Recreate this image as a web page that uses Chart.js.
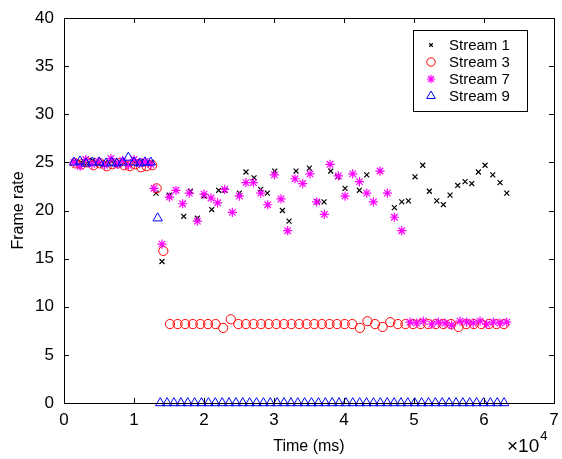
<!DOCTYPE html>
<html lang="en">
<head>
  <meta charset="UTF-8">
  <title>Frame rate</title>
  <script src="https://cdn.jsdelivr.net/npm/chart.js"></script>
  <style>
    body { margin: 0; background: #fff; }
    #wrap { position: relative; width: 562px; height: 459px; }
  </style>
</head>
<body>
  <div id="wrap"><canvas id="chart"></canvas></div>
  <script>
    // x axis ticks (ms) and y ticks
    const xTicks = [0, 10000, 20000, 30000, 40000, 50000, 60000, 70000];
    const yTicks = [0, 5, 10, 15, 20, 25, 30, 35, 40];

    // Stream 1 (black x)
    const s1Time = [1500, 2400, 3200, 4100, 5000, 5900, 6800, 7700, 8500, 9300, 10100, 10900, 11700, 12500,
      13150, 14000, 15050, 17100, 18050, 19050, 20000, 21100, 22100, 23000, 25050, 26000, 27150, 28100, 29050,
      30100, 31200, 32150, 33150, 35050, 36200, 37150, 38100, 39100, 40150, 42200, 43250, 47200, 48250, 49200,
      50150, 51250, 52200, 53250, 54200, 55150, 56250, 57300, 58250, 59200, 60150, 61250, 62300, 63250];
    const s1Rate = [25.1, 25.0, 24.9, 25.2, 24.8, 25.0, 25.1, 24.9, 25.0, 24.8, 25.0, 25.1, 24.9, 25.0,
      21.8, 14.7, 21.6, 19.4, 22.0, 19.2, 21.5, 20.1, 22.1, 22.1, 21.8, 24.0, 23.4, 22.2, 21.8,
      24.1, 20.0, 18.9, 24.1, 24.4, 20.9, 20.9, 24.1, 23.5, 22.3, 22.1, 23.7, 20.3, 20.9, 21.0,
      23.5, 24.7, 22.0, 21.0, 20.6, 21.6, 22.6, 23.0, 22.8, 24.0, 24.7, 23.7, 22.9, 21.8];

    // Stream 3 (red circles)
    const s3Time = [1600, 2500, 3300, 4200, 5100, 6100, 6900, 7800, 8600, 9400, 10200, 11000, 11800, 12600,
      13240, 14190, 15140, 16230, 17310, 18400, 19480, 20570, 21650, 22740, 23820, 24910, 25990, 27080, 28160,
      29250, 30330, 31420, 32500, 33590, 34670, 35760, 36840, 37930, 39010, 40100, 41180, 42270, 43350, 44440,
      45520, 46610, 47690, 48780, 49860, 50950, 52030, 53120, 54200, 55290, 56370, 57460, 58540, 59630, 60700,
      61780, 62860];
    const s3Rate = [24.9, 24.8, 25.0, 24.7, 24.9, 24.6, 24.8, 24.9, 24.7, 24.6, 24.8, 24.5, 24.6, 24.7,
      22.3, 15.8, 8.2, 8.2, 8.2, 8.2, 8.2, 8.2, 8.2, 7.8, 8.7, 8.2, 8.2, 8.2, 8.2,
      8.2, 8.2, 8.2, 8.2, 8.2, 8.2, 8.2, 8.2, 8.2, 8.2, 8.2, 8.2, 7.8, 8.5, 8.2,
      7.9, 8.4, 8.2, 8.2, 8.2, 8.2, 8.2, 8.2, 8.2, 8.2, 7.9, 8.2, 8.2, 8.2, 8.2,
      8.2, 8.2, 7.8, 8.2, 8.2, 8.2];

    // Stream 7 (magenta stars)
    const s7Time = [1400, 2300, 3100, 4000, 4900, 5800, 6700, 7600, 8400, 9200, 10000, 10800, 11600, 12400,
      12860, 14000, 15050, 16000, 16950, 17900, 19050, 20000, 21000, 21950, 22950, 24050, 25050, 26000, 27050,
      28100, 29100, 30050, 31000, 31950, 33000, 34100, 35150, 36100, 37200, 38000, 39200, 40150, 41250, 42200,
      43250, 44200, 45150, 46200, 47200, 48250,
      49430, 50380, 51330, 52530, 53470, 54430, 55380, 56570, 57530, 58470, 59430, 60380, 61330, 62290, 63240];
    const s7Rate = [25.0, 24.6, 25.3, 24.8, 25.1, 24.7, 25.4, 24.8, 25.2, 24.7, 25.3, 24.9, 25.1, 24.8,
      22.3, 16.5, 21.4, 22.1, 20.7, 21.8, 18.9, 21.7, 21.3, 20.8, 22.2, 19.8, 21.5, 22.9, 22.9,
      21.8, 20.6, 23.7, 21.2, 17.9, 23.3, 22.8, 23.8, 20.9, 19.6, 24.8, 23.6, 21.5, 23.8, 23.0,
      21.8, 20.9, 24.1, 21.8, 19.3, 17.9,
      8.4, 8.3, 8.5, 8.2, 8.4, 8.3, 8.1, 8.5, 8.4, 8.3, 8.5, 8.2, 8.4, 8.3, 8.4];

    // Stream 9 (blue triangles)
    const s9Time = [1430, 2290, 3140, 4040, 5040, 6000, 6810, 7530, 8380, 9190, 10000, 10860, 11570, 12390,
      13380, 13750, 14730, 15710, 16700, 17680, 18660, 19640, 20630, 21610, 22590, 23570, 24560, 25540, 26520,
      27500, 28490, 29470, 30450, 31430, 32420, 33400, 34380, 35360, 36350, 37330, 38310, 39290, 40280, 41260,
      42240, 43220, 44210, 45190, 46170, 47150, 48140, 49120, 50100, 51080, 52070, 53050, 54030, 55010, 56000,
      56980, 57960, 58940, 59930, 60910, 61890, 62870];
    const s9Rate = [25.0, 25.1, 24.9, 25.0, 25.0, 24.9, 25.0, 24.9, 25.0, 25.5, 25.0, 24.9, 25.0, 25.0,
      19.2, 0, 0, 0, 0, 0, 0, 0, 0, 0, 0, 0, 0, 0, 0,
      0, 0, 0, 0, 0, 0, 0, 0, 0, 0, 0, 0, 0, 0, 0,
      0, 0, 0, 0, 0, 0, 0, 0, 0, 0, 0, 0, 0, 0, 0,
      0, 0, 0, 0, 0, 0, 0];

    const toPoints = (t, v) => t.map((x, i) => ({ x: x, y: v[i] }));

    const series = [
      { label: 'Stream 1', data: toPoints(s1Time, s1Rate), pointStyle: 'crossRot', pointRadius: 3.5, borderColor: '#000', pointBorderWidth: 1.2, order: 4 },
      { label: 'Stream 3', data: toPoints(s3Time, s3Rate), pointStyle: 'circle', pointRadius: 4.6, borderColor: '#ff0000', pointBorderWidth: 1, order: 3 },
      { label: 'Stream 7', data: toPoints(s7Time, s7Rate), pointStyle: 'star', pointRadius: 4.6, borderColor: '#ff00ff', pointBorderWidth: 1.2, order: 2 },
      { label: 'Stream 9', data: toPoints(s9Time, s9Rate), pointStyle: 'triangle', pointRadius: 5.4, borderColor: '#0000ff', pointBorderWidth: 1, order: 1 }
    ];
    series.forEach(s => { s.backgroundColor = 'rgba(0,0,0,0)'; s.showLine = false; s.clip = false; });

    const FONT = 'Helvetica, "Liberation Sans", Arial, sans-serif';

    // box, inward ticks, legend and the x10^4 exponent
    const framePlugin = {
      id: 'frame',
      afterDraw(chart) {
        const ctx = chart.ctx;
        const a = chart.chartArea;
        const xs = chart.scales.x, ys = chart.scales.y;
        ctx.save();
        ctx.strokeStyle = '#000';
        ctx.lineWidth = 1;
        ctx.strokeRect(Math.round(a.left) + 0.5, Math.round(a.top) + 0.5, Math.round(a.right - a.left), Math.round(a.bottom - a.top));
        ctx.beginPath();
        yTicks.forEach(v => {
          const y = Math.round(ys.getPixelForValue(v)) + 0.5;
          ctx.moveTo(a.left, y); ctx.lineTo(a.left + 5, y);
          ctx.moveTo(a.right, y); ctx.lineTo(a.right - 5, y);
        });
        xTicks.forEach(v => {
          const x = Math.round(xs.getPixelForValue(v)) + 0.5;
          ctx.moveTo(x, a.bottom); ctx.lineTo(x, a.bottom - 5);
          ctx.moveTo(x, a.top); ctx.lineTo(x, a.top + 5);
        });
        ctx.stroke();

        // legend
        const lw = 114, lh = 81;
        const lx = Math.round(a.right - 27 - lw), ly = Math.round(a.top + 12);
        ctx.fillStyle = '#fff';
        ctx.fillRect(lx, ly, lw, lh);
        ctx.strokeRect(lx + 0.5, ly + 0.5, lw, lh);
        ctx.font = '15px ' + FONT;
        ctx.textBaseline = 'middle';
        ctx.textAlign = 'left';
        series.forEach((s, i) => {
          const cy = ly + 15 + i * 17;
          ctx.strokeStyle = s.borderColor;
          ctx.fillStyle = 'rgba(0,0,0,0)';
          ctx.lineWidth = s.pointBorderWidth;
          const r = s.pointStyle === 'crossRot' ? 2.5 : (s.pointStyle === 'triangle' ? 5 : 4.2);
          Chart.helpers.drawPoint(ctx, { pointStyle: s.pointStyle, radius: r, rotation: 0, borderWidth: s.pointBorderWidth }, lx + 18, cy);
          ctx.fillStyle = '#000';
          ctx.fillText(s.label, lx + 36, cy + 1);
        });

        // exponent label
        ctx.fillStyle = '#000';
        ctx.font = '19px ' + FONT;
        ctx.textAlign = 'left';
        ctx.textBaseline = 'middle';
        const base = '\u00d710';
        const bx = a.right - 47;
        ctx.fillText(base, bx, 447);
        const bw = ctx.measureText(base).width;
        ctx.font = '13px ' + FONT;
        ctx.fillText('4', bx + bw + 1, 436);
        ctx.restore();
      }
    };

    new Chart(document.getElementById('chart'), {
      type: 'scatter',
      data: { datasets: series },
      options: {
        responsive: true,
        maintainAspectRatio: false,
        animation: false,
        layout: { padding: { top: 18, right: 8, left: 0, bottom: 0 } },
        plugins: { legend: { display: false }, tooltip: { enabled: false } },
        scales: {
          x: {
            type: 'linear',
            min: 0,
            max: 70000,
            grid: { display: false, drawTicks: false },
            border: { display: false },
            afterFit: scale => { scale.height = 56; scale.paddingLeft = 0; scale.paddingRight = 0; },
            afterBuildTicks: scale => { scale.ticks = xTicks.map(v => ({ value: v })); },
            ticks: {
              padding: 7,
              color: '#000',
              font: { size: 17, family: FONT },
              maxRotation: 0,
              callback: v => v / 10000
            },
            title: { display: true, text: 'Time (ms)', color: '#000', font: { size: 16, family: FONT }, padding: { top: 0, bottom: 3 } }
          },
          y: {
            min: 0,
            max: 40,
            grid: { display: false, drawTicks: false },
            border: { display: false },
            afterFit: scale => { scale.width = 64; scale.paddingTop = 0; scale.paddingBottom = 0; },
            afterBuildTicks: scale => { scale.ticks = yTicks.map(v => ({ value: v })); },
            ticks: { padding: 10, color: '#000', font: { size: 17, family: FONT } },
            title: { display: true, text: 'Frame rate', color: '#000', font: { size: 16, family: FONT }, padding: { top: 9, bottom: 0 } }
          }
        }
      },
      plugins: [framePlugin]
    });
  </script>
</body>
</html>
